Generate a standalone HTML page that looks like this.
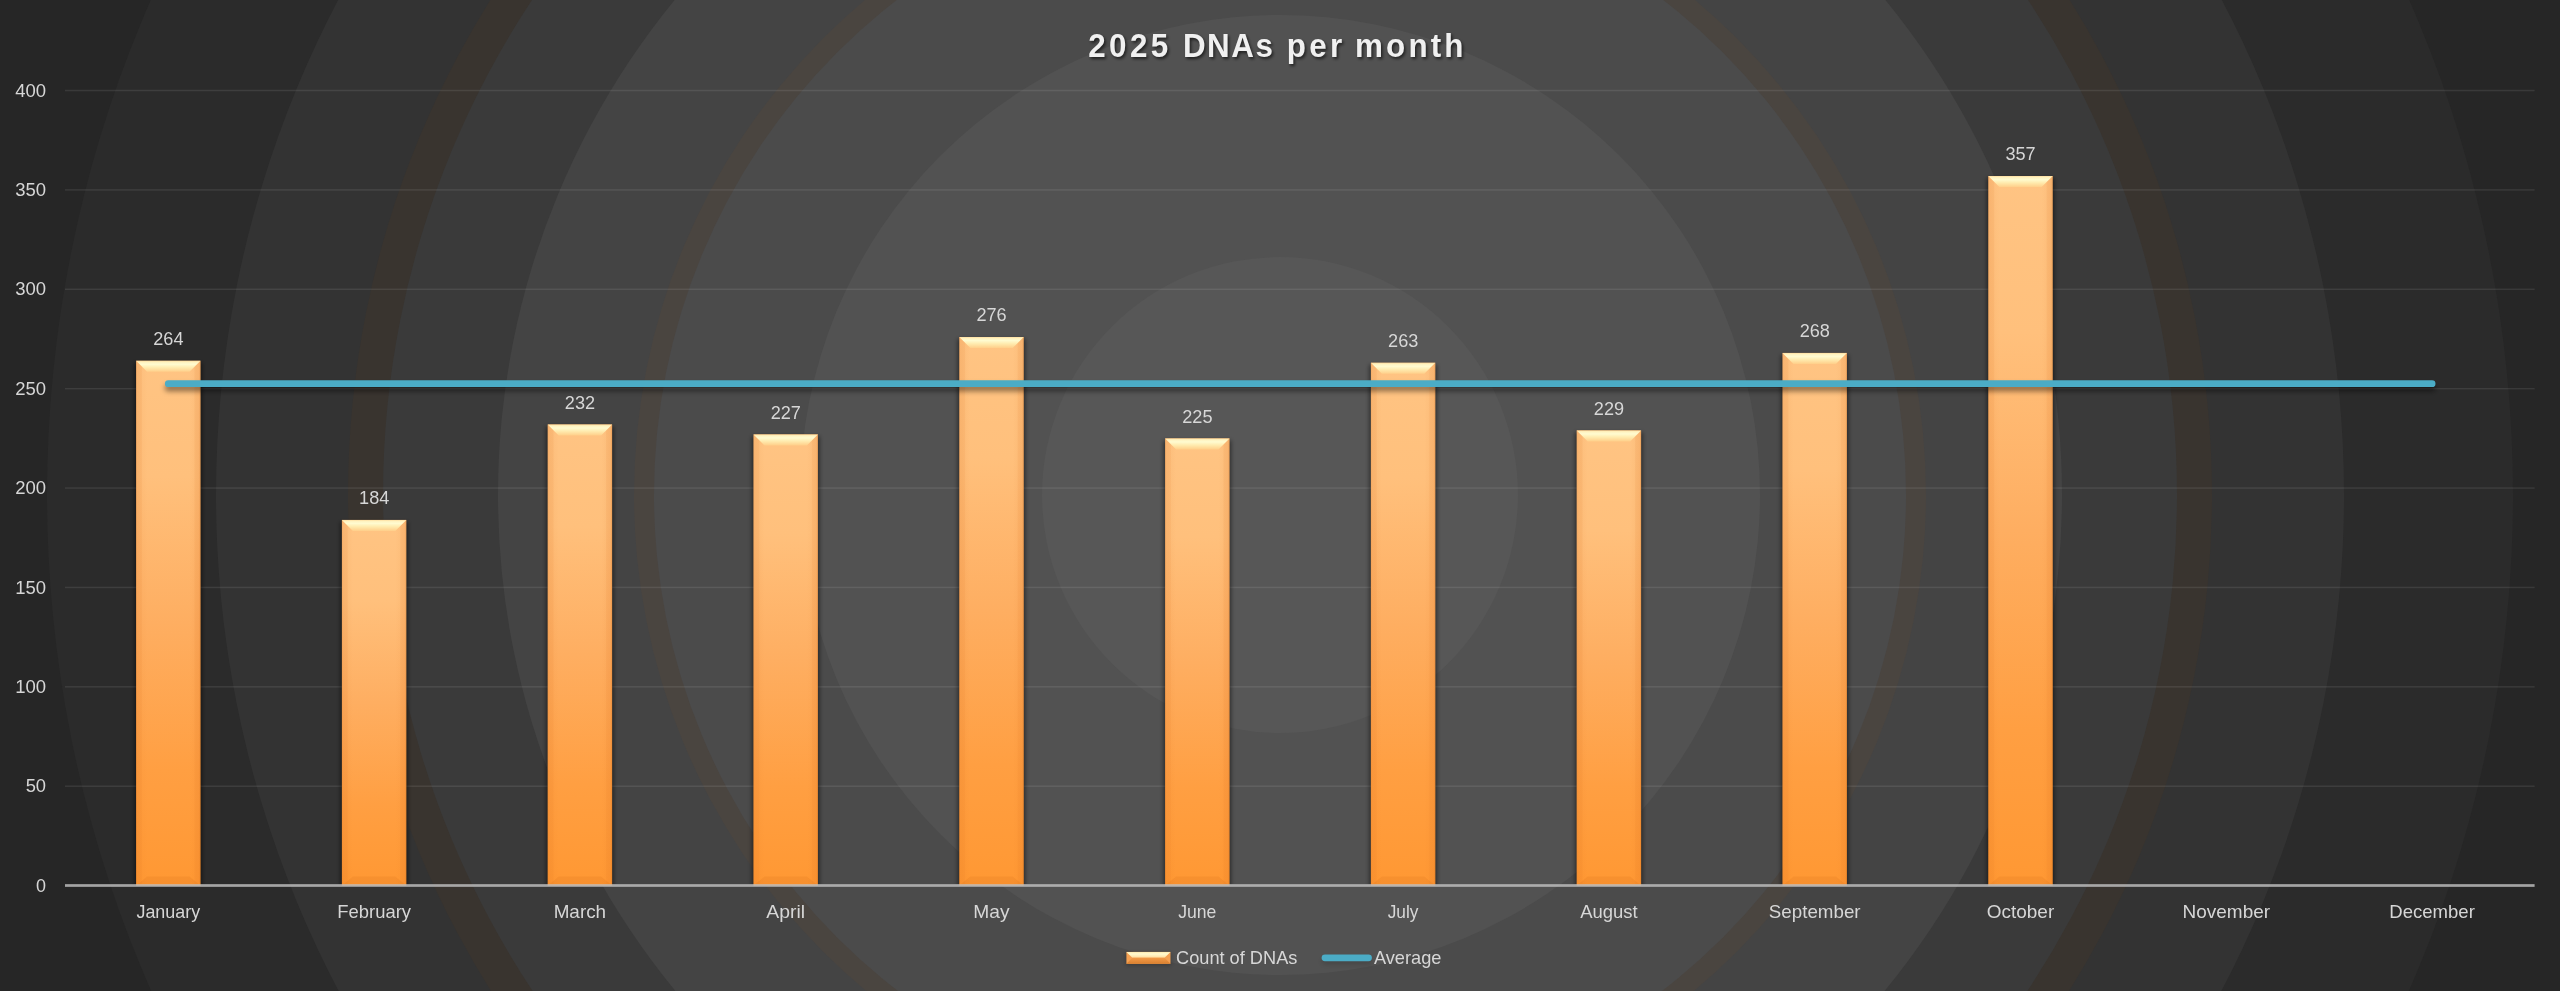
<!DOCTYPE html>
<html lang="en"><head><meta charset="utf-8"><title>2025 DNAs per month</title>
<style>html,body{margin:0;padding:0;background:#262626;overflow:hidden}svg{display:block}text{font-family:"Liberation Sans",sans-serif}</style></head><body>
<svg width="2560" height="991" viewBox="0 0 2560 991">
<defs>
<linearGradient id="bar" x1="0" y1="0" x2="0" y2="1"><stop offset="0" stop-color="#ffc483"/><stop offset="0.22" stop-color="#ffc07c"/><stop offset="0.5" stop-color="#feae61"/><stop offset="0.78" stop-color="#ff9f42"/><stop offset="1" stop-color="#ff9833"/></linearGradient>
<linearGradient id="bevT" x1="0" y1="0" x2="0" y2="1"><stop offset="0" stop-color="#ffdc9c"/><stop offset="0.12" stop-color="#fff3c0"/><stop offset="0.32" stop-color="#fffbd0"/><stop offset="0.6" stop-color="#ffecb0"/><stop offset="1" stop-color="#ffcf8a"/></linearGradient>
<linearGradient id="edgeL" x1="0" y1="0" x2="1" y2="0"><stop offset="0" stop-color="#d4691a" stop-opacity="0.3"/><stop offset="0.1" stop-color="#d96d1c" stop-opacity="0.17"/><stop offset="0.48" stop-color="#d96d1c" stop-opacity="0.13"/><stop offset="0.58" stop-color="#d96d1c" stop-opacity="0.04"/><stop offset="1" stop-color="#d96d1c" stop-opacity="0"/></linearGradient>
<linearGradient id="edgeR" x1="0" y1="0" x2="1" y2="0"><stop offset="0" stop-color="#d96d1c" stop-opacity="0"/><stop offset="0.4" stop-color="#d96d1c" stop-opacity="0.04"/><stop offset="0.5" stop-color="#d96d1c" stop-opacity="0.13"/><stop offset="0.85" stop-color="#d96d1c" stop-opacity="0.18"/><stop offset="1" stop-color="#c96414" stop-opacity="0.38"/></linearGradient>
<clipPath id="plotclip"><rect x="0" y="0" width="2560" height="884.3"/></clipPath>
<filter id="sh" filterUnits="userSpaceOnUse" x="0" y="0" width="2560" height="991"><feGaussianBlur stdDeviation="2.1"/></filter>
<filter id="lsh" filterUnits="userSpaceOnUse" x="0" y="0" width="2560" height="991"><feGaussianBlur stdDeviation="2.4"/></filter>
<filter id="tsh" filterUnits="userSpaceOnUse" x="1000" y="0" width="560" height="100"><feGaussianBlur stdDeviation="1.8"/></filter>
</defs>
<rect width="2560" height="991" fill="#262626"/>
<circle cx="1280" cy="495.0" r="1233" fill="#2b2b2b"/>
<circle cx="1280" cy="495.0" r="1064" fill="#333333"/>
<circle cx="1280" cy="495.0" r="932" fill="#39342f"/>
<circle cx="1280" cy="495.0" r="897" fill="#3a3a3a"/>
<circle cx="1280" cy="495.0" r="782" fill="#444444"/>
<circle cx="1280" cy="495.0" r="646" fill="#4a4540"/>
<circle cx="1280" cy="495.0" r="626" fill="#4b4b4b"/>
<circle cx="1280" cy="495.0" r="480" fill="#525252"/>
<circle cx="1280" cy="495.0" r="238" fill="#575757"/>
<rect x="65.0" y="785.47" width="2469.6" height="1.5" fill="#ffffff" fill-opacity="0.09"/>
<rect x="65.0" y="686.08" width="2469.6" height="1.5" fill="#ffffff" fill-opacity="0.09"/>
<rect x="65.0" y="586.69" width="2469.6" height="1.5" fill="#ffffff" fill-opacity="0.09"/>
<rect x="65.0" y="487.31" width="2469.6" height="1.5" fill="#ffffff" fill-opacity="0.09"/>
<rect x="65.0" y="387.93" width="2469.6" height="1.5" fill="#ffffff" fill-opacity="0.09"/>
<rect x="65.0" y="288.54" width="2469.6" height="1.5" fill="#ffffff" fill-opacity="0.09"/>
<rect x="65.0" y="189.15" width="2469.6" height="1.5" fill="#ffffff" fill-opacity="0.09"/>
<rect x="65.0" y="89.77" width="2469.6" height="1.5" fill="#ffffff" fill-opacity="0.09"/>
<g clip-path="url(#plotclip)"><g filter="url(#sh)" fill="#000" fill-opacity="0.48">
<rect x="134.5" y="362.8" width="67.6" height="532.8"/>
<rect x="340.3" y="521.9" width="67.6" height="373.7"/>
<rect x="546.1" y="426.5" width="67.6" height="469.1"/>
<rect x="751.9" y="436.4" width="67.6" height="459.2"/>
<rect x="957.7" y="339.0" width="67.6" height="556.6"/>
<rect x="1163.5" y="440.4" width="67.6" height="455.2"/>
<rect x="1369.3" y="364.8" width="67.6" height="530.8"/>
<rect x="1575.1" y="432.4" width="67.6" height="463.2"/>
<rect x="1780.9" y="354.9" width="67.6" height="540.7"/>
<rect x="1986.7" y="178.0" width="67.6" height="717.6"/>
</g></g>
<rect x="136.1" y="360.8" width="64.4" height="524.8" fill="url(#bar)"/>
<rect x="136.1" y="360.8" width="11" height="524.8" fill="url(#edgeL)"/>
<rect x="189.5" y="360.8" width="11" height="524.8" fill="url(#edgeR)"/>
<polygon points="136.1,360.8 200.5,360.8 189.5,371.8 147.1,371.8" fill="url(#bevT)"/>
<polygon points="136.1,885.6 200.5,885.6 189.5,876.6 147.1,876.6" fill="#d2691a" fill-opacity="0.17"/>
<rect x="341.9" y="519.9" width="64.4" height="365.7" fill="url(#bar)"/>
<rect x="341.9" y="519.9" width="11" height="365.7" fill="url(#edgeL)"/>
<rect x="395.3" y="519.9" width="11" height="365.7" fill="url(#edgeR)"/>
<polygon points="341.9,519.9 406.3,519.9 395.3,530.9 352.9,530.9" fill="url(#bevT)"/>
<polygon points="341.9,885.6 406.3,885.6 395.3,876.6 352.9,876.6" fill="#d2691a" fill-opacity="0.17"/>
<rect x="547.7" y="424.5" width="64.4" height="461.1" fill="url(#bar)"/>
<rect x="547.7" y="424.5" width="11" height="461.1" fill="url(#edgeL)"/>
<rect x="601.1" y="424.5" width="11" height="461.1" fill="url(#edgeR)"/>
<polygon points="547.7,424.5 612.1,424.5 601.1,435.5 558.7,435.5" fill="url(#bevT)"/>
<polygon points="547.7,885.6 612.1,885.6 601.1,876.6 558.7,876.6" fill="#d2691a" fill-opacity="0.17"/>
<rect x="753.5" y="434.4" width="64.4" height="451.2" fill="url(#bar)"/>
<rect x="753.5" y="434.4" width="11" height="451.2" fill="url(#edgeL)"/>
<rect x="806.9" y="434.4" width="11" height="451.2" fill="url(#edgeR)"/>
<polygon points="753.5,434.4 817.9,434.4 806.9,445.4 764.5,445.4" fill="url(#bevT)"/>
<polygon points="753.5,885.6 817.9,885.6 806.9,876.6 764.5,876.6" fill="#d2691a" fill-opacity="0.17"/>
<rect x="959.3" y="337.0" width="64.4" height="548.6" fill="url(#bar)"/>
<rect x="959.3" y="337.0" width="11" height="548.6" fill="url(#edgeL)"/>
<rect x="1012.7" y="337.0" width="11" height="548.6" fill="url(#edgeR)"/>
<polygon points="959.3,337.0 1023.7,337.0 1012.7,348.0 970.3,348.0" fill="url(#bevT)"/>
<polygon points="959.3,885.6 1023.7,885.6 1012.7,876.6 970.3,876.6" fill="#d2691a" fill-opacity="0.17"/>
<rect x="1165.1" y="438.4" width="64.4" height="447.2" fill="url(#bar)"/>
<rect x="1165.1" y="438.4" width="11" height="447.2" fill="url(#edgeL)"/>
<rect x="1218.5" y="438.4" width="11" height="447.2" fill="url(#edgeR)"/>
<polygon points="1165.1,438.4 1229.5,438.4 1218.5,449.4 1176.1,449.4" fill="url(#bevT)"/>
<polygon points="1165.1,885.6 1229.5,885.6 1218.5,876.6 1176.1,876.6" fill="#d2691a" fill-opacity="0.17"/>
<rect x="1370.9" y="362.8" width="64.4" height="522.8" fill="url(#bar)"/>
<rect x="1370.9" y="362.8" width="11" height="522.8" fill="url(#edgeL)"/>
<rect x="1424.3" y="362.8" width="11" height="522.8" fill="url(#edgeR)"/>
<polygon points="1370.9,362.8 1435.3,362.8 1424.3,373.8 1381.9,373.8" fill="url(#bevT)"/>
<polygon points="1370.9,885.6 1435.3,885.6 1424.3,876.6 1381.9,876.6" fill="#d2691a" fill-opacity="0.17"/>
<rect x="1576.7" y="430.4" width="64.4" height="455.2" fill="url(#bar)"/>
<rect x="1576.7" y="430.4" width="11" height="455.2" fill="url(#edgeL)"/>
<rect x="1630.1" y="430.4" width="11" height="455.2" fill="url(#edgeR)"/>
<polygon points="1576.7,430.4 1641.1,430.4 1630.1,441.4 1587.7,441.4" fill="url(#bevT)"/>
<polygon points="1576.7,885.6 1641.1,885.6 1630.1,876.6 1587.7,876.6" fill="#d2691a" fill-opacity="0.17"/>
<rect x="1782.5" y="352.9" width="64.4" height="532.7" fill="url(#bar)"/>
<rect x="1782.5" y="352.9" width="11" height="532.7" fill="url(#edgeL)"/>
<rect x="1835.9" y="352.9" width="11" height="532.7" fill="url(#edgeR)"/>
<polygon points="1782.5,352.9 1846.9,352.9 1835.9,363.9 1793.5,363.9" fill="url(#bevT)"/>
<polygon points="1782.5,885.6 1846.9,885.6 1835.9,876.6 1793.5,876.6" fill="#d2691a" fill-opacity="0.17"/>
<rect x="1988.3" y="176.0" width="64.4" height="709.6" fill="url(#bar)"/>
<rect x="1988.3" y="176.0" width="11" height="709.6" fill="url(#edgeL)"/>
<rect x="2041.7" y="176.0" width="11" height="709.6" fill="url(#edgeR)"/>
<polygon points="1988.3,176.0 2052.7,176.0 2041.7,187.0 1999.3,187.0" fill="url(#bevT)"/>
<polygon points="1988.3,885.6 2052.7,885.6 2041.7,876.6 1999.3,876.6" fill="#d2691a" fill-opacity="0.17"/>
<rect x="65.0" y="884.15" width="2469.6" height="2.7" fill="#c0c0c0" fill-opacity="0.82"/>
<line x1="168.3" y1="387.85" x2="2432.1" y2="387.85" stroke="#000" stroke-opacity="0.42" stroke-width="7.4" stroke-linecap="round" filter="url(#lsh)"/>
<line x1="168.3" y1="383.65" x2="2432.1" y2="383.65" stroke="#4bacc6" stroke-width="6.8" stroke-linecap="round"/>
<g opacity="0.99">
<text x="36.10" y="891.80" font-size="18.8" fill="#d9d9d9" textLength="9.99" lengthAdjust="spacingAndGlyphs">0</text>
<text x="25.65" y="792.42" font-size="18.8" fill="#d9d9d9" textLength="20.43" lengthAdjust="spacingAndGlyphs">50</text>
<text x="15.20" y="693.03" font-size="18.8" fill="#d9d9d9" textLength="30.87" lengthAdjust="spacingAndGlyphs">100</text>
<text x="15.20" y="593.64" font-size="18.8" fill="#d9d9d9" textLength="30.87" lengthAdjust="spacingAndGlyphs">150</text>
<text x="15.20" y="494.26" font-size="18.8" fill="#d9d9d9" textLength="30.87" lengthAdjust="spacingAndGlyphs">200</text>
<text x="15.20" y="394.88" font-size="18.8" fill="#d9d9d9" textLength="30.87" lengthAdjust="spacingAndGlyphs">250</text>
<text x="15.20" y="295.49" font-size="18.8" fill="#d9d9d9" textLength="30.87" lengthAdjust="spacingAndGlyphs">300</text>
<text x="15.20" y="196.10" font-size="18.8" fill="#d9d9d9" textLength="30.87" lengthAdjust="spacingAndGlyphs">350</text>
<text x="15.20" y="96.72" font-size="18.8" fill="#d9d9d9" textLength="30.87" lengthAdjust="spacingAndGlyphs">400</text>
<text x="153.25" y="345.35" font-size="18.8" fill="#d9d9d9" textLength="30.27" lengthAdjust="spacingAndGlyphs">264</text>
<text x="136.43" y="918.00" font-size="18.4" fill="#d9d9d9" textLength="63.75" lengthAdjust="spacingAndGlyphs">January</text>
<text x="359.05" y="504.36" font-size="18.8" fill="#d9d9d9" textLength="30.27" lengthAdjust="spacingAndGlyphs">184</text>
<text x="337.23" y="918.00" font-size="18.4" fill="#d9d9d9" textLength="73.78" lengthAdjust="spacingAndGlyphs">February</text>
<text x="564.85" y="408.95" font-size="18.8" fill="#d9d9d9" textLength="30.27" lengthAdjust="spacingAndGlyphs">232</text>
<text x="553.65" y="918.00" font-size="18.4" fill="#d9d9d9" textLength="52.49" lengthAdjust="spacingAndGlyphs">March</text>
<text x="770.65" y="418.89" font-size="18.8" fill="#d9d9d9" textLength="30.27" lengthAdjust="spacingAndGlyphs">227</text>
<text x="766.32" y="918.00" font-size="18.4" fill="#d9d9d9" textLength="38.76" lengthAdjust="spacingAndGlyphs">April</text>
<text x="976.45" y="321.49" font-size="18.8" fill="#d9d9d9" textLength="30.27" lengthAdjust="spacingAndGlyphs">276</text>
<text x="973.37" y="918.00" font-size="18.4" fill="#d9d9d9" textLength="36.28" lengthAdjust="spacingAndGlyphs">May</text>
<text x="1182.25" y="422.87" font-size="18.8" fill="#d9d9d9" textLength="30.27" lengthAdjust="spacingAndGlyphs">225</text>
<text x="1178.17" y="918.00" font-size="18.4" fill="#d9d9d9" textLength="38.22" lengthAdjust="spacingAndGlyphs">June</text>
<text x="1388.05" y="347.33" font-size="18.8" fill="#d9d9d9" textLength="30.27" lengthAdjust="spacingAndGlyphs">263</text>
<text x="1387.72" y="918.00" font-size="18.4" fill="#d9d9d9" textLength="30.74" lengthAdjust="spacingAndGlyphs">July</text>
<text x="1593.85" y="414.92" font-size="18.8" fill="#d9d9d9" textLength="30.27" lengthAdjust="spacingAndGlyphs">229</text>
<text x="1580.15" y="918.00" font-size="18.4" fill="#d9d9d9" textLength="57.52" lengthAdjust="spacingAndGlyphs">August</text>
<text x="1799.65" y="337.40" font-size="18.8" fill="#d9d9d9" textLength="30.27" lengthAdjust="spacingAndGlyphs">268</text>
<text x="1768.83" y="918.00" font-size="18.4" fill="#d9d9d9" textLength="91.76" lengthAdjust="spacingAndGlyphs">September</text>
<text x="2005.45" y="160.49" font-size="18.8" fill="#d9d9d9" textLength="30.27" lengthAdjust="spacingAndGlyphs">357</text>
<text x="1986.75" y="918.00" font-size="18.4" fill="#d9d9d9" textLength="67.49" lengthAdjust="spacingAndGlyphs">October</text>
<text x="2182.55" y="918.00" font-size="18.4" fill="#d9d9d9" textLength="87.51" lengthAdjust="spacingAndGlyphs">November</text>
<text x="2389.35" y="918.00" font-size="18.4" fill="#d9d9d9" textLength="85.51" lengthAdjust="spacingAndGlyphs">December</text>
<g filter="url(#tsh)" fill-opacity="0.62">
<text transform="translate(1089.70,59.10) scale(0.96,1)" font-size="32.7" font-weight="bold" fill="#000" letter-spacing="3.562">2025</text>
<text transform="translate(1184.40,59.10) scale(0.96,1)" font-size="32.7" font-weight="bold" fill="#000" letter-spacing="1.618">DNAs</text>
<text transform="translate(1288.30,59.10) scale(0.96,1)" font-size="32.7" font-weight="bold" fill="#000" letter-spacing="3.469">per</text>
<text transform="translate(1356.60,59.10) scale(0.96,1)" font-size="32.7" font-weight="bold" fill="#000" letter-spacing="3.234">month</text>
</g>
<text transform="translate(1088.20,56.70) scale(0.96,1)" font-size="32.7" font-weight="bold" fill="#f2f2f2" letter-spacing="3.562">2025</text>
<text transform="translate(1182.90,56.70) scale(0.96,1)" font-size="32.7" font-weight="bold" fill="#f2f2f2" letter-spacing="1.618">DNAs</text>
<text transform="translate(1286.80,56.70) scale(0.96,1)" font-size="32.7" font-weight="bold" fill="#f2f2f2" letter-spacing="3.469">per</text>
<text transform="translate(1355.10,56.70) scale(0.96,1)" font-size="32.7" font-weight="bold" fill="#f2f2f2" letter-spacing="3.234">month</text>
</g>
<defs><linearGradient id="lgT" x1="0" y1="0" x2="0" y2="1"><stop offset="0" stop-color="#ffe9ae"/><stop offset="0.35" stop-color="#fffbd0"/><stop offset="1" stop-color="#ffdc9c"/></linearGradient><linearGradient id="lgB" x1="0" y1="0" x2="0" y2="1"><stop offset="0" stop-color="#f29a48"/><stop offset="1" stop-color="#d9802f"/></linearGradient></defs>
<rect x="1125.6000000000001" y="952.9" width="45.7" height="12.5" fill="#000" fill-opacity="0.22" filter="url(#sh)"/>
<rect x="1126.4" y="951.9" width="44.1" height="11.9" fill="#f4a052"/>
<polygon points="1126.4,951.9 1170.5,951.9 1164.55,957.85 1132.35,957.85" fill="url(#lgT)"/>
<polygon points="1126.4,963.8 1170.5,963.8 1164.55,957.85 1132.35,957.85" fill="url(#lgB)"/>
<line x1="1325.0" y1="961.2" x2="1368.5" y2="961.2" stroke="#000" stroke-opacity="0.15" stroke-width="6.5" stroke-linecap="round" filter="url(#lsh)"/>
<line x1="1325.0" y1="957.85" x2="1368.5" y2="957.85" stroke="#4bacc6" stroke-width="6.8" stroke-linecap="round"/>
<g opacity="0.99">
<text x="1176.00" y="963.80" font-size="18.6" fill="#d9d9d9" textLength="121.39" lengthAdjust="spacingAndGlyphs">Count of DNAs</text>
<text x="1373.90" y="963.80" font-size="18.6" fill="#d9d9d9" textLength="67.49" lengthAdjust="spacingAndGlyphs">Average</text>
</g>
</svg></body></html>
